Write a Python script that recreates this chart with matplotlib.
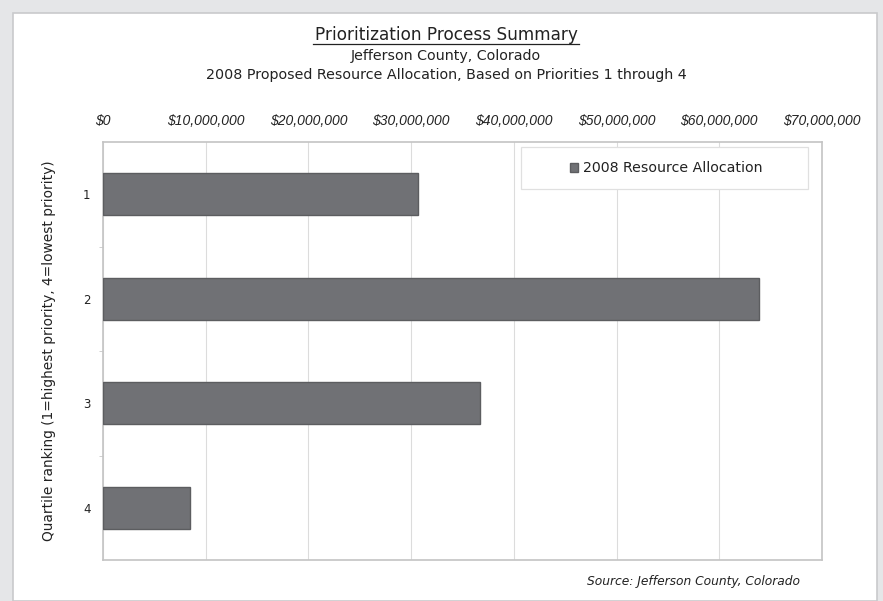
import matplotlib
matplotlib.use('Agg')
import matplotlib.pyplot as plt
from matplotlib.patches import Rectangle
from matplotlib.lines import Line2D
from matplotlib.ticker import FuncFormatter, FixedLocator

plt.rcParams['font.family'] = ['DejaVu Sans']
narrow = ['Liberation Sans', 'DejaVu Sans']

# data
quartiles = ['1', '2', '3', '4']
allocation = [30.7e6, 63.9e6, 36.7e6, 8.5e6]
series_name = '2008 Resource Allocation'

title = 'Prioritization Process Summary'
subtitle1 = 'Jefferson County, Colorado'
subtitle2 = '2008 Proposed Resource Allocation, Based on Priorities 1 through 4'
ylabel = 'Quartile ranking (1=highest priority, 4=lowest priority)'
source = 'Source: Jefferson County, Colorado'

fig = plt.figure(figsize=(8.83, 6.01), dpi=100)
fig.patch.set_facecolor('#e5e6e8')
# white panel behind everything
fig.patches.append(Rectangle((13/883, 0), (877-13)/883, 1 - 13/601, transform=fig.transFigure,
                             facecolor='white', edgecolor='#c9cacc', lw=1.2, zorder=-10))

ax = fig.add_axes([103/883, 1 - 560/601, (822-103)/883, (560-142)/601])
ax.set_zorder(1)
pos = list(range(len(quartiles)))
ax.barh(pos, allocation, height=0.4, color='#707175', edgecolor='#5c5d60', lw=1.0,
        label=series_name, zorder=3)
ax.set_xlim(0, 70e6)
ax.set_ylim(3.5, -0.5)
ax.set_yticks(pos)
ax.set_yticklabels(quartiles, fontsize=8.5, color='#222222')
ax.yaxis.set_minor_locator(FixedLocator([0.5, 1.5, 2.5]))
ax.tick_params(axis='y', which='major', length=0, pad=9)
ax.tick_params(axis='y', which='minor', length=3, color='#c8c8c8')

ax.xaxis.tick_top()
ax.set_xticks([i * 10e6 for i in range(8)])
ax.xaxis.set_major_formatter(FuncFormatter(lambda v, p: '${:,.0f}'.format(v)))
ax.tick_params(axis='x', length=0, pad=10, labelsize=10, labelcolor='#222222')
for lab in ax.get_xticklabels():
    lab.set_fontstyle('italic')
    lab.set_family(narrow)
ax.grid(axis='x', color='#dcdcdc', lw=0.8, zorder=0)
for s in ax.spines.values():
    s.set_color('#c4c4c4')
    s.set_linewidth(1.2)

ax.set_ylabel(ylabel, fontsize=9.9, color='#222222')
ax.yaxis.set_label_coords(-47/719, 0.5)

# legend box drawn separately so its size matches the reference
ax.add_patch(Rectangle((521/883, 1 - 189/601), (808-521)/883, (189-147)/601, transform=fig.transFigure,
                       facecolor='white', edgecolor='#e0e0e0', lw=0.9, zorder=4, clip_on=False))
leg = ax.legend(loc='center', bbox_to_anchor=(666/883, 1 - 168/601), bbox_transform=fig.transFigure,
                frameon=False, fontsize=10.2, handlelength=0.6, handleheight=0.6,
                handletextpad=0.3)
leg.set_zorder(6)
for t in leg.get_texts():
    t.set_color('#222222')

fig.text(446/883, 1 - 35/601, title, ha='center', va='center', fontsize=12.2, color='#222222')
fig.add_artist(Line2D([313/883, 579/883], [1 - 44/601, 1 - 44/601], color='#222222', lw=0.9))
fig.text(446/883, 1 - 56/601, subtitle1, ha='center', va='center', fontsize=10.3, color='#222222')
fig.text(446/883, 1 - 75/601, subtitle2, ha='center', va='center', fontsize=10.3, color='#222222')
fig.text(800/883, 1 - 582/601, source, ha='right', va='center', fontsize=8.8, fontstyle='italic',
         color='#222222')

fig.savefig('out.png', dpi=100, facecolor=fig.get_facecolor())
